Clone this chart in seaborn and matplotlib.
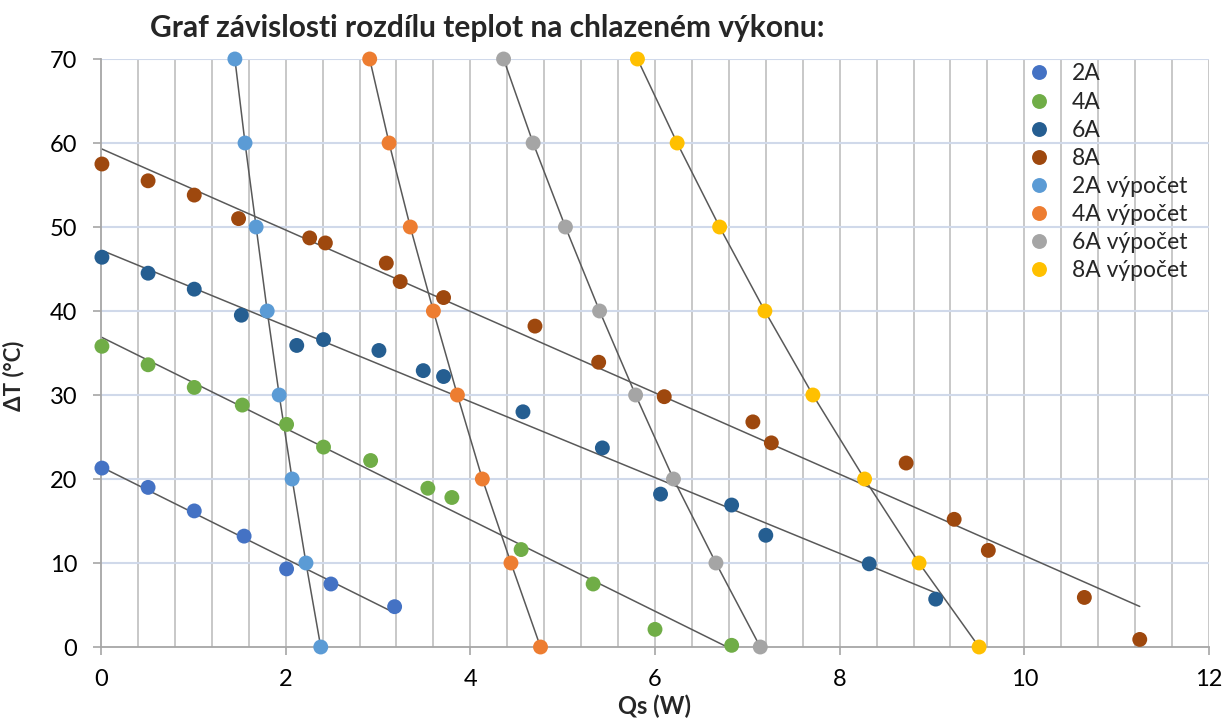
import numpy as np
import pandas as pd
import matplotlib
matplotlib.use("Agg")
import matplotlib.pyplot as plt
import seaborn as sns

# Measured series: cooling power Qs (W) vs temperature difference dT (degC)
qs_2a = [0.01, 0.51, 1.01, 1.55, 2.01, 2.49, 3.18]
dt_2a = [21.3, 19.0, 16.2, 13.2, 9.3, 7.5, 4.8]

qs_4a = [0.01, 0.51, 1.01, 1.53, 2.01, 2.41, 2.92, 3.54, 3.80, 4.55, 5.33, 6.00, 6.83]
dt_4a = [35.8, 33.6, 30.9, 28.8, 26.5, 23.8, 22.2, 18.9, 17.8, 11.6, 7.5, 2.1, 0.2]

qs_6a = [0.01, 0.51, 1.01, 1.52, 2.12, 2.41, 3.01, 3.49, 3.71, 4.57, 5.43, 6.06, 6.83, 7.20, 8.32, 9.04]
dt_6a = [46.4, 44.5, 42.6, 39.5, 35.9, 36.6, 35.3, 32.9, 32.2, 28.0, 23.7, 18.2, 16.9, 13.3, 9.9, 5.7]

qs_8a = [0.01, 0.51, 1.01, 1.49, 2.26, 2.43, 3.09, 3.24, 3.71, 4.70, 5.39, 6.10, 7.06,
         7.26, 8.72, 9.24, 9.61, 10.65, 11.25]
dt_8a = [57.5, 55.5, 53.8, 51.0, 48.7, 48.1, 45.7, 43.5, 41.6, 38.2, 33.9, 29.8, 26.8,
         24.3, 21.9, 15.2, 11.5, 5.9, 0.9]

# Calculated series
dt_calc = [70, 60, 50, 40, 30, 20, 10, 0]
qs_2a_calc = [1.45, 1.56, 1.68, 1.80, 1.93, 2.07, 2.22, 2.38]
qs_4a_calc = [2.91, 3.12, 3.35, 3.60, 3.86, 4.13, 4.44, 4.76]
qs_6a_calc = [4.36, 4.68, 5.03, 5.40, 5.79, 6.20, 6.66, 7.14]
qs_8a_calc = [5.81, 6.24, 6.70, 7.19, 7.71, 8.27, 8.86, 9.51]

series_names = ["2A", "4A", "6A", "8A", "2A výpočet", "4A výpočet", "6A výpočet", "8A výpočet"]
series_colors = ["#4472C4", "#70AD47", "#255E91", "#9E480E",
                 "#5B9BD5", "#ED7D31", "#A5A5A5", "#FFC000"]

measured = [(qs_2a, dt_2a), (qs_4a, dt_4a), (qs_6a, dt_6a), (qs_8a, dt_8a)]
calculated = [(qs_2a_calc, dt_calc), (qs_4a_calc, dt_calc),
              (qs_6a_calc, dt_calc), (qs_8a_calc, dt_calc)]

frames = []
for name, (q, t) in zip(series_names, measured + calculated):
    frames.append(pd.DataFrame({"Qs": q, "dT": t, "série": name}))
df = pd.concat(frames, ignore_index=True)

sns.set_theme(style="white")
plt.rcParams["font.family"] = ["Lato", "DejaVu Sans"]

fig = plt.figure(figsize=(12.24, 7.22), dpi=100)
ax = fig.add_axes([101 / 1224, 1 - 647 / 722, 1108 / 1224, 588 / 722])

# grid: vertical every 0.4 W, horizontal every 10 degC
for xv in np.arange(0.4, 12.01, 0.4):
    ax.axvline(xv, color="#BFBFBF", lw=1.2, zorder=0)
for yv in np.arange(10, 70.1, 10):
    ax.axhline(yv, color="#D0D9EA", lw=1.5, zorder=0)

line_color = "#595959"
# linear trend lines of measured series
for q, t in measured:
    sns.regplot(x=q, y=t, ax=ax, scatter=False, ci=None, truncate=True,
                line_kws=dict(color=line_color, lw=1.1, zorder=2))
# connecting lines of calculated series
for i, (q, t) in enumerate(calculated):
    sub = pd.DataFrame({"Qs": q, "dT": t})
    sns.lineplot(data=sub, x="Qs", y="dT", ax=ax, sort=False, estimator=None,
                 color=line_color, lw=1.1, zorder=2)

sns.scatterplot(data=df, x="Qs", y="dT", hue="série", hue_order=series_names,
                palette=series_colors, s=115, edgecolor="none", ax=ax, zorder=3,
                clip_on=False)

ax.set_xlim(0, 12)
ax.set_ylim(0, 70)
ax.set_xticks(np.arange(0, 12.1, 2))
ax.set_yticks(np.arange(0, 70.1, 10))
ax.tick_params(axis="both", labelsize=17, colors="#000000", length=6,
               direction="out", width=1.2, color="#A6A6A6", pad=11)
ax.tick_params(axis="x", bottom=True, pad=10)
ax.tick_params(axis="y", left=True)

for side in ["top", "right"]:
    ax.spines[side].set_visible(False)
for side in ["left", "bottom"]:
    ax.spines[side].set_color("#A6A6A6")
    ax.spines[side].set_linewidth(1.3)

ax.set_xlabel("Qs (W)", fontsize=17, fontweight="bold", labelpad=3)
ax.set_ylabel("ΔT (°C)", fontsize=16, fontweight="bold")
ax.yaxis.set_label_coords(-0.0695, 0.461)

leg = ax.legend(loc="upper left", bbox_to_anchor=(0.818, 1.008), frameon=False,
                fontsize=16.5, handletextpad=0.4, labelspacing=0.31,
                markerscale=1.0, borderaxespad=0.0)

fig.text(150 / 1224, 1 - 28 / 722, "Graf závislosti rozdílu teplot na chlazeném výkonu:",
         fontsize=21.5, fontweight="bold", ha="left", va="center")

fig.savefig("out.png", dpi=100)
